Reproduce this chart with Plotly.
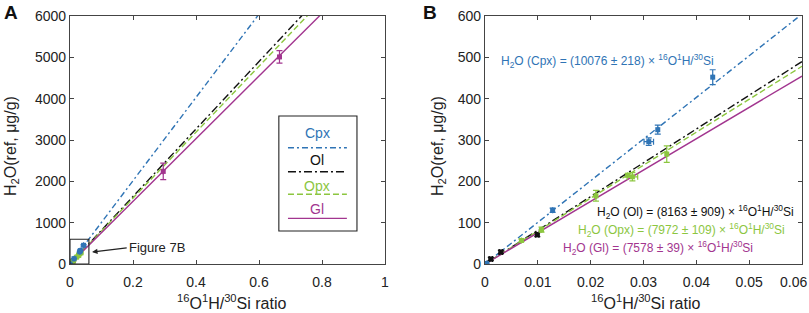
import plotly.graph_objects as go

# ---- data ----
minerals = ["Cpx", "Ol", "Opx", "Gl"]
slopes = [10076, 8163, 7972, 7578]
slope_errs = [218, 909, 109, 39]
colors = ["#2f74b5", "#111111", "#8cc63f", "#a2358f"]
dashes = ["6px,3px,2px,3px", "8px,3px,2px,3px", "6px,3px", "solid"]

cpx_x = [0.0003, 0.0128, 0.0310, 0.0327, 0.0431]
cpx_y = [1, 130, 296, 325, 452]
cpx_ex = [0, 0, 0.0009, 0, 0]
cpx_ey = [1, 5, 9, 11, 18]

ol_x = [0.0002, 0.0011, 0.0030, 0.0099]
ol_y = [1, 12, 29, 71]
ol_ex = [0.0003, 0.0003, 0.0003, 0.0003]
ol_ey = [3, 4, 4, 5]

opx_x = [0.0069, 0.0107, 0.0210, 0.0270, 0.0279, 0.0344]
opx_y = [57, 83, 165, 215, 211, 266]
opx_ex = [0, 0, 0, 0, 0.0010, 0]
opx_ey = [3, 6, 13, 4, 10, 20]

gl_x = [0.296, 0.665]
gl_y = [2240, 5010]
gl_ey = [200, 150]

xticks_a = [0, 0.2, 0.4, 0.6, 0.8, 1]
yticks_a = [0, 1000, 2000, 3000, 4000, 5000, 6000]
xticks_b = [0, 0.01, 0.02, 0.03, 0.04, 0.05, 0.06]
yticks_b = [0, 100, 200, 300, 400, 500, 600]

FONT = "Liberation Sans, Arial, sans-serif"
TXT = "#222"
fig = go.Figure()

# fit lines
for ax, xmax in (("", 1.0), ("2", 0.06)):
    for name, s, c, d in zip(minerals, slopes, colors, dashes):
        fig.add_trace(go.Scatter(x=[0, xmax], y=[0, s * xmax], mode="lines",
                                 line=dict(color=c, width=1.4, dash=d),
                                 xaxis="x" + ax, yaxis="y" + ax, showlegend=False,
                                 hoverinfo="skip"))

def pts(x, y, ex, ey, c, ax):
    fig.add_trace(go.Scatter(
        x=x, y=y, mode="markers",
        marker=dict(color=c, size=5, symbol="square"),
        error_x=dict(type="data", array=ex, color=c, thickness=1.2, width=3),
        error_y=dict(type="data", array=ey, color=c, thickness=1.2, width=3),
        xaxis="x" + ax, yaxis="y" + ax, showlegend=False))

for ax in ("", "2"):
    pts(ol_x, ol_y, ol_ex, ol_ey, colors[1], ax)
    pts(opx_x, opx_y, opx_ex, opx_ey, colors[2], ax)
    pts(cpx_x, cpx_y, cpx_ex, cpx_ey, colors[0], ax)
pts(gl_x, gl_y, [0, 0], gl_ey, colors[3], "")

axis_common = dict(showgrid=False, zeroline=False, showline=True, linecolor="#444",
                   linewidth=1.2, mirror="ticks", ticks="inside", ticklen=4,
                   tickcolor="#444", automargin=False, ticklabeloverflow="allow",
                   tickfont=dict(family=FONT, size=14, color=TXT))

# last B tick label is drawn as an annotation so it stays inside the page
xticktext_b = [str(v) for v in xticks_b[:-1]] + [""]

fig.update_layout(
    width=809, height=313, margin=dict(l=0, r=0, t=0, b=0),
    paper_bgcolor="white", plot_bgcolor="white",
    xaxis=dict(axis_common, domain=[70 / 809, 385 / 809], range=[0, 1],
               tickvals=xticks_a, ticktext=[str(v) for v in xticks_a], ticklabelstandoff=5),
    yaxis=dict(axis_common, domain=[49 / 313, 297 / 313], range=[0, 6000], tickvals=yticks_a),
    xaxis2=dict(axis_common, domain=[485 / 809, 802 / 809], range=[0, 0.06],
                tickvals=xticks_b, ticktext=xticktext_b, anchor="y2", ticklabelstandoff=5),
    yaxis2=dict(axis_common, domain=[49 / 313, 297 / 313], range=[0, 600],
                tickvals=yticks_b, anchor="x2"),
)
fig.add_annotation(x=1.0, y=31 / 313, xref="paper", yref="paper", text=str(xticks_b[-1]),
                   showarrow=False, xanchor="right", yanchor="middle",
                   font=dict(family=FONT, size=14, color=TXT))

# axis titles
xt_title = "<sup>16</sup>O<sup>1</sup>H/<sup>30</sup>Si ratio"
yt_title = "H<sub>2</sub>O(ref, μg/g)"
for xc in (231, 645):
    fig.add_annotation(x=xc / 809, y=11 / 313, xref="paper", yref="paper", text=xt_title,
                       showarrow=False, xanchor="center", yanchor="middle",
                       font=dict(family=FONT, size=16, color=TXT))
for xc in (12, 439):
    fig.add_annotation(x=xc / 809, y=(313 - 146) / 313, xref="paper", yref="paper", text=yt_title,
                       showarrow=False, textangle=-90, xanchor="center", yanchor="middle",
                       font=dict(family=FONT, size=16, color=TXT))

# Figure 7B box in panel A
fig.add_shape(type="rect", x0=0, x1=0.06, y0=0, y1=600, xref="x", yref="y",
              line=dict(color="#222", width=1.1))
fig.add_annotation(x=0.07, y=290, xref="x", yref="y", ax=0.18, ay=390, axref="x", ayref="y",
                   text="Figure 7B", xanchor="left", showarrow=True, arrowhead=2,
                   arrowsize=1, arrowwidth=1.1, arrowcolor="#222",
                   font=dict(family=FONT, size=13, color=TXT))

# custom legend box in panel A
fig.add_shape(type="rect", x0=0.663, x1=0.911, y0=0.133, y1=0.597,
              xref="x domain", yref="y domain", line=dict(color="#222", width=1.1),
              fillcolor="white", layer="above")
leg_text_y = [0.529, 0.419, 0.316, 0.221]
leg_line_y = [0.469, 0.372, 0.281, 0.184]
for name, c, d, ty, ly in zip(minerals, colors, dashes, leg_text_y, leg_line_y):
    fig.add_shape(type="line", x0=0.692, x1=0.879, y0=ly, y1=ly, xref="x domain", yref="y domain",
                  line=dict(color=c, width=1.4, dash=d), layer="above")
    fig.add_annotation(x=0.785, y=ty, xref="x domain", yref="y domain", text=name,
                       showarrow=False, xanchor="center", yanchor="middle",
                       font=dict(family=FONT, size=14, color=c))

# equations in panel B
eq = "H<sub>2</sub>O ({m}) = ({s} ± {e}) × <sup>16</sup>O<sup>1</sup>H/<sup>30</sup>Si"
eq_pos = [(0.0026, 491, "left"), (0.0589, 126, "right"), (0.0572, 82, "right"), (0.0511, 39, "right")]
for name, s, e, c, (x, y, anc) in zip(minerals, slopes, slope_errs, colors, eq_pos):
    fig.add_annotation(x=x, y=y, xref="x2", yref="y2", text=eq.format(m=name, s=s, e=e),
                       showarrow=False, xanchor=anc, yanchor="middle",
                       font=dict(family=FONT, size=12, color=c))

# panel labels
fig.add_annotation(x=2 / 809, y=1.0, xref="paper", yref="paper", text="<b>A</b>", showarrow=False,
                   xanchor="left", yanchor="top", font=dict(family=FONT, size=19, color="#111"))
fig.add_annotation(x=421 / 809, y=1.0, xref="paper", yref="paper", text="<b>B</b>", showarrow=False,
                   xanchor="left", yanchor="top", font=dict(family=FONT, size=19, color="#111"))

fig.write_html("out.html", config={"displayModeBar": False},
               post_script="document.body.style.margin='0';document.body.style.overflow='hidden';")
